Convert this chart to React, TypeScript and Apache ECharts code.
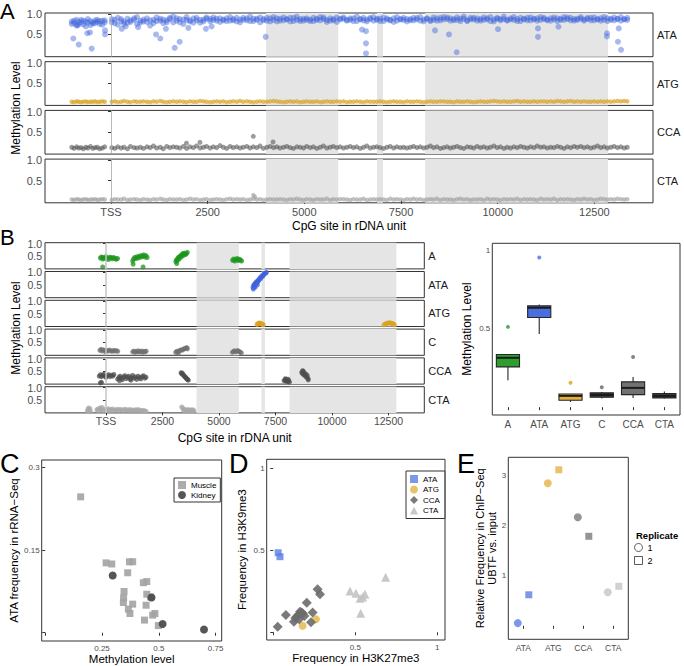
import React, { useEffect, useRef } from 'react';
import * as echarts from 'echarts';

const FONT = '"Liberation Sans", Arial, Helvetica, sans-serif';

// ---------------- Panel A data ----------------
const shadedRegions = [[4007, 5876], [6877, 7033], [8123, 12852]];
const siteTicks = [0, 2500, 5000, 7500, 10000, 12500];
const siteTickLabels = ['TSS', '2500', '5000', '7500', '10000', '12500'];

const cpgSites = [
  -1015, -955, -890, -838, -772, -716, -650, -598, -530, -471, -410, -352, -290, -226, -162,
  20, 98, 176, 262, 338, 425, 503, 596, 672, 760,
  841, 930, 1012, 1098, 1180, 1275, 1352, 1440, 1523, 1610,
  1697, 1780, 1872, 1955, 2043, 2130, 2212, 2305, 2390, 2470,
  2562, 2645, 2731, 2820, 2905, 2990, 3078, 3161, 3250, 3336,
  3420, 3512, 3596, 3680, 3771, 3855, 3940, 4030, 4115, 4203,
  4288, 4370, 4462, 4547, 4633, 4718, 4805, 4892, 4978, 5060,
  5150, 5235, 5322, 5410, 5493, 5580, 5668, 5750, 5840, 5925,
  6012, 6098, 6185, 6270, 6356, 6445, 6530, 6615, 6702, 6790,
  6874, 6960, 7048, 7135, 7220, 7308, 7392, 7480, 7565, 7652,
  7740, 7824, 7912, 7998, 8085, 8170, 8258, 8342, 8430, 8518,
  8602, 8690, 8776, 8862, 8950, 9035, 9122, 9210, 9295, 9380,
  9468, 9555, 9640, 9728, 9812, 9900, 9987, 10072, 10160, 10245,
  10332, 10418, 10505, 10590, 10678, 10765, 10850, 10938, 11022, 11110,
  11196, 11282, 11370, 11455, 11542, 11628, 11715, 11800, 11888, 11975,
  12060, 12148, 12232, 12320, 12406, 12492, 12580, 12665, 12752, 12838,
  12925, 13010, 13098, 13185, 13270, 13350,
];

const ataLevels = [
  0.82, 0.78, 0.86, 0.74, 0.80, 0.84, 0.70, 0.79, 0.83, 0.77, 0.85, 0.81, 0.76, 0.84, 0.80,
  0.80, 0.86, 0.74, 0.88, 0.82, 0.79, 0.85, 0.90, 0.76, 0.84,
  0.87, 0.81, 0.72, 0.86, 0.83, 0.89, 0.78, 0.85, 0.91, 0.80,
  0.84, 0.88, 0.76, 0.86, 0.82, 0.90, 0.85, 0.79, 0.87, 0.92,
  0.83, 0.86, 0.89, 0.81, 0.85, 0.90, 0.84, 0.88, 0.82, 0.87,
  0.91, 0.85, 0.83, 0.89, 0.86, 0.80, 0.88, 0.84, 0.90, 0.86,
  0.82, 0.89, 0.85, 0.87, 0.91, 0.83, 0.86, 0.88, 0.84, 0.90,
  0.87, 0.83, 0.89, 0.85, 0.92, 0.86, 0.84, 0.88, 0.81, 0.87,
  0.89, 0.84, 0.86, 0.90, 0.83, 0.88, 0.85, 0.87, 0.91, 0.84,
  0.86, 0.89, 0.83, 0.87, 0.85, 0.90, 0.84, 0.88, 0.86, 0.82,
  0.88, 0.85, 0.91, 0.84, 0.87, 0.89, 0.83, 0.86, 0.90, 0.85,
  0.87, 0.92, 0.84, 0.88, 0.86, 0.83, 0.89, 0.85, 0.91, 0.87,
  0.84, 0.88, 0.86, 0.90, 0.83, 0.87, 0.89, 0.85, 0.88, 0.84,
  0.90, 0.86, 0.88, 0.83, 0.87, 0.91, 0.85, 0.89, 0.84, 0.86,
  0.88, 0.85, 0.90, 0.87, 0.83, 0.89, 0.86, 0.92, 0.85, 0.88,
  0.86, 0.89, 0.84, 0.88, 0.91, 0.85, 0.87, 0.90, 0.86, 0.83,
  0.89, 0.85, 0.88, 0.84, 0.87, 0.86,
];

const ataLevels2 = [
  0.76, 0.84, 0.72, 0.81, 0.86, 0.75, 0.82, 0.88, 0.73, 0.80, 0.78, 0.86, 0.83, 0.74, 0.85,
  0.88, 0.78, 0.91, 0.83, 0.76, 0.89, 0.81, 0.86, 0.93, 0.79,
  0.82, 0.90, 0.85, 0.78, 0.92, 0.84, 0.87, 0.80, 0.88, 0.94,
  0.90, 0.80, 0.87, 0.93, 0.85, 0.79, 0.91, 0.86, 0.82, 0.89,
  0.88, 0.92, 0.84, 0.90, 0.87, 0.83, 0.93, 0.85, 0.91, 0.80,
  0.86, 0.90, 0.94, 0.83, 0.89, 0.92, 0.85, 0.91, 0.82, 0.93,
  0.90, 0.84, 0.92, 0.88, 0.82, 0.91, 0.94, 0.83, 0.89, 0.86,
  0.83, 0.91, 0.86, 0.93, 0.88, 0.81, 0.90, 0.85, 0.92, 0.89,
  0.92, 0.86, 0.90, 0.83, 0.94, 0.87, 0.91, 0.82, 0.88, 0.93,
  0.89, 0.83, 0.92, 0.90, 0.86, 0.81, 0.93, 0.87, 0.91, 0.88,
  0.85, 0.91, 0.87, 0.93, 0.82, 0.90, 0.86, 0.92, 0.84, 0.91,
  0.93, 0.88, 0.90, 0.85, 0.92, 0.89, 0.94, 0.83, 0.87, 0.91,
  0.90, 0.84, 0.92, 0.87, 0.93, 0.82, 0.91, 0.88, 0.94, 0.86,
  0.87, 0.93, 0.83, 0.91, 0.89, 0.85, 0.92, 0.87, 0.90, 0.93,
  0.91, 0.87, 0.84, 0.92, 0.90, 0.86, 0.93, 0.88, 0.91, 0.84,
  0.89, 0.93, 0.87, 0.91, 0.85, 0.92, 0.88, 0.84, 0.93, 0.90,
  0.86, 0.92, 0.89, 0.93, 0.88, 0.91,
];

const atgLevels = [
  0.04, 0.03, 0.05, 0.04, 0.03, 0.04, 0.05, 0.03, 0.04, 0.04, 0.05, 0.03, 0.04, 0.05, 0.04,
  0.04, 0.05, 0.03, 0.04, 0.06, 0.04, 0.03, 0.05, 0.04, 0.04,
  0.05, 0.04, 0.03, 0.05, 0.04, 0.06, 0.04, 0.03, 0.04, 0.05,
  0.04, 0.05, 0.04, 0.03, 0.05, 0.04, 0.04, 0.06, 0.05, 0.04,
  0.03, 0.04, 0.05, 0.04, 0.05, 0.03, 0.04, 0.05, 0.04, 0.06,
  0.04, 0.05, 0.04, 0.03, 0.04, 0.05, 0.04, 0.04, 0.05, 0.06,
  0.05, 0.04, 0.03, 0.04, 0.05, 0.04, 0.05, 0.03, 0.04, 0.05,
  0.04, 0.04, 0.05, 0.03, 0.04, 0.05, 0.04, 0.04, 0.05, 0.04,
  0.05, 0.03, 0.04, 0.04, 0.05, 0.04, 0.03, 0.05, 0.04, 0.04,
  0.04, 0.05, 0.04, 0.03, 0.04, 0.05, 0.04, 0.04, 0.03, 0.05,
  0.04, 0.04, 0.05, 0.04, 0.03, 0.04, 0.05, 0.04, 0.04, 0.05,
  0.05, 0.04, 0.04, 0.03, 0.05, 0.04, 0.04, 0.05, 0.04, 0.03,
  0.04, 0.05, 0.04, 0.04, 0.05, 0.06, 0.05, 0.04, 0.05, 0.04,
  0.04, 0.05, 0.06, 0.04, 0.05, 0.04, 0.04, 0.05, 0.04, 0.05,
  0.05, 0.04, 0.05, 0.04, 0.06, 0.05, 0.04, 0.05, 0.06, 0.04,
  0.05, 0.04, 0.05, 0.04, 0.04, 0.05, 0.04, 0.05, 0.04, 0.05,
  0.04, 0.05, 0.06, 0.05, 0.06, 0.05,
];

const ccaLevels = [
  0.12, 0.09, 0.13, 0.10, 0.11, 0.08, 0.12, 0.10, 0.14, 0.09, 0.11, 0.12, 0.08, 0.10, 0.13,
  0.11, 0.09, 0.13, 0.10, 0.12, 0.08, 0.14, 0.11, 0.10, 0.12,
  0.09, 0.13, 0.11, 0.15, 0.10, 0.12, 0.08, 0.14, 0.11, 0.13,
  0.12, 0.10, 0.14, 0.09, 0.13, 0.11, 0.15, 0.10, 0.12, 0.14,
  0.10, 0.13, 0.11, 0.16, 0.12, 0.09, 0.14, 0.11, 0.13, 0.10,
  0.12, 0.14, 0.10, 0.13, 0.11, 0.15, 0.09, 0.12, 0.14, 0.11,
  0.13, 0.10, 0.12, 0.14, 0.11, 0.09, 0.13, 0.12, 0.10, 0.14,
  0.11, 0.13, 0.09, 0.12, 0.15, 0.10, 0.12, 0.14, 0.11, 0.13,
  0.10, 0.12, 0.14, 0.11, 0.13, 0.09, 0.12, 0.15, 0.10, 0.12,
  0.13, 0.11, 0.09, 0.12, 0.14, 0.10, 0.13, 0.11, 0.12, 0.10,
  0.12, 0.14, 0.11, 0.13, 0.10, 0.12, 0.15, 0.11, 0.13, 0.09,
  0.11, 0.13, 0.10, 0.12, 0.14, 0.11, 0.09, 0.13, 0.12, 0.10,
  0.14, 0.11, 0.13, 0.10, 0.12, 0.15, 0.11, 0.13, 0.09, 0.12,
  0.10, 0.13, 0.11, 0.14, 0.12, 0.10, 0.13, 0.11, 0.15, 0.12,
  0.13, 0.10, 0.12, 0.11, 0.14, 0.12, 0.09, 0.13, 0.11, 0.14,
  0.12, 0.14, 0.11, 0.13, 0.10, 0.12, 0.15, 0.11, 0.13, 0.10,
  0.12, 0.14, 0.11, 0.13, 0.10, 0.12,
];

const ctaLevels = [
  0.03, 0.02, 0.04, 0.03, 0.02, 0.03, 0.04, 0.02, 0.03, 0.03, 0.04, 0.02, 0.03, 0.04, 0.03,
  0.02, 0.04, 0.03, 0.03, 0.05, 0.02, 0.03, 0.04, 0.03, 0.02,
  0.04, 0.03, 0.02, 0.04, 0.03, 0.05, 0.03, 0.02, 0.04, 0.03,
  0.03, 0.04, 0.02, 0.03, 0.05, 0.03, 0.04, 0.02, 0.03, 0.04,
  0.02, 0.03, 0.04, 0.03, 0.02, 0.04, 0.05, 0.03, 0.04, 0.03,
  0.04, 0.02, 0.03, 0.05, 0.03, 0.04, 0.02, 0.03, 0.04, 0.03,
  0.03, 0.04, 0.03, 0.02, 0.04, 0.03, 0.05, 0.03, 0.02, 0.04,
  0.03, 0.02, 0.04, 0.03, 0.03, 0.05, 0.02, 0.04, 0.03, 0.04,
  0.04, 0.03, 0.02, 0.04, 0.03, 0.03, 0.05, 0.02, 0.03, 0.04,
  0.03, 0.04, 0.03, 0.02, 0.05, 0.03, 0.04, 0.03, 0.02, 0.04,
  0.03, 0.05, 0.03, 0.04, 0.02, 0.03, 0.04, 0.03, 0.05, 0.02,
  0.04, 0.03, 0.03, 0.02, 0.04, 0.05, 0.03, 0.04, 0.02, 0.03,
  0.03, 0.04, 0.02, 0.05, 0.03, 0.04, 0.03, 0.02, 0.04, 0.03,
  0.04, 0.03, 0.05, 0.02, 0.04, 0.03, 0.04, 0.03, 0.02, 0.05,
  0.03, 0.04, 0.03, 0.05, 0.02, 0.04, 0.03, 0.04, 0.03, 0.02,
  0.04, 0.03, 0.05, 0.03, 0.04, 0.02, 0.03, 0.05, 0.04, 0.03,
  0.04, 0.03, 0.05, 0.04, 0.03, 0.04,
];

const ataOutliers = [
  [-975, 0.40], [-835, 0.25], [-500, 0.15], [-613, 0.53], [-543, 0.55], [-880, 0.73],
  [-155, 0.60], [-155, 0.50], [1164, 0.50], [1275, 0.40], [1647, 0.17], [1776, 0.32],
  [4000, 0.44], [1420, 0.64], [2455, 0.64], [6594, 0.58], [6594, 0.28], [6594, 0.03],
  [6490, 0.62], [8940, 0.06], [8378, 0.60], [8740, 0.50], [11042, 0.65], [11042, 0.44],
  [10008, 0.63], [12826, 0.53], [12826, 0.45], [13110, 0.32], [13190, 0.12], [13130, 0.65],
  [11570, 0.69], [277, 0.64], [380, 0.70], [700, 0.68], [2000, 0.66], [2600, 0.70],
];
const ccaOutliers = [[3680, 0.39], [4190, 0.25], [2300, 0.24], [1950, 0.22]];
const ctaOutliers = [[3680, 0.14], [3720, 0.10]];

// ---------------- Panel B data ----------------
const bAPoints = [
  [-250, 0.42], [-200, 0.46], [-150, 0.38], [-120, 0.44], [-60, 0.40], [0, 0.47], [60, 0.41],
  [110, 0.36], [170, 0.45], [220, 0.43], [280, 0.39], [330, 0.44], [390, 0.41], [450, 0.37],
  [510, 0.40], [-146, 0.06],
  [1180, 0.30], [1220, 0.38], [1270, 0.44], [1320, 0.40], [1370, 0.47], [1420, 0.42], [1470, 0.50],
  [1520, 0.45], [1570, 0.52], [1620, 0.48], [1670, 0.55], [1720, 0.46], [1770, 0.52], [1820, 0.44],
  [1200, 0.17], [1640, 0.06],
  [3090, 0.28], [3120, 0.35], [3150, 0.32], [3180, 0.40], [3210, 0.45], [3240, 0.38], [3270, 0.48],
  [3300, 0.52], [3330, 0.46], [3360, 0.55], [3390, 0.60], [3420, 0.52], [3450, 0.58], [3480, 0.62],
  [3520, 0.56], [3560, 0.60], [3600, 0.65], [3130, 0.20],
  [5600, 0.33], [5650, 0.38], [5700, 0.30], [5750, 0.36], [5800, 0.40], [5850, 0.32], [5900, 0.37],
  [5950, 0.34], [6000, 0.30],
];
const bATAPoints = [
  [6500, 0.40], [6530, 0.48], [6560, 0.52], [6580, 0.45], [6610, 0.58], [6640, 0.55], [6660, 0.62],
  [6690, 0.60], [6720, 0.68], [6750, 0.66], [6780, 0.72], [6810, 0.78], [6840, 0.75], [6870, 0.82],
  [6900, 0.86], [6930, 0.84], [6960, 0.90], [6990, 0.93], [7020, 0.96], [7060, 0.98], [7100, 1.0],
  [6520, 0.33], [6600, 0.40], [6700, 0.50],
];
const bATGPoints = [
  [6680, 0.06], [6720, 0.09], [6760, 0.11], [6800, 0.12], [6840, 0.10], [6880, 0.08], [6920, 0.07],
  [6960, 0.05], [12300, 0.05], [12360, 0.08], [12420, 0.10], [12480, 0.12], [12540, 0.13],
  [12600, 0.12], [12660, 0.10], [12720, 0.08], [12760, 0.05],
];
const bCPoints = [
  [-270, 0.18], [-220, 0.22], [-170, 0.15], [-120, 0.20], [-70, 0.17], [-20, 0.12], [40, 0.18],
  [100, 0.15], [160, 0.19], [220, 0.16], [280, 0.14], [340, 0.18], [400, 0.15], [460, 0.17], [520, 0.14],
  [1180, 0.12], [1230, 0.15], [1280, 0.10], [1330, 0.14], [1380, 0.12], [1430, 0.16], [1480, 0.11],
  [1530, 0.13], [1580, 0.15], [1630, 0.10], [1680, 0.14], [1730, 0.12], [1780, 0.15],
  [3080, 0.10], [3130, 0.14], [3180, 0.12], [3230, 0.16], [3280, 0.18], [3330, 0.20], [3380, 0.19],
  [3430, 0.23], [3480, 0.25], [3530, 0.27], [3580, 0.29], [3600, 0.24], [3200, 0.06],
  [5590, 0.10], [5640, 0.14], [5690, 0.16], [5740, 0.12], [5790, 0.15], [5840, 0.17], [5890, 0.13],
  [5940, 0.11], [5990, 0.08],
];
const bCCAPoints = [
  [-300, 0.30], [-250, 0.36], [-200, 0.28], [-150, 0.33], [-100, 0.38], [-50, 0.30], [0, 0.25],
  [60, 0.32], [120, 0.36], [180, 0.28], [240, 0.34], [300, 0.30], [350, 0.37], [-250, 0.03], [-200, 0.05],
  [520, 0.18], [570, 0.25], [620, 0.30], [680, 0.22], [730, 0.16], [780, 0.28], [840, 0.32], [900, 0.20],
  [950, 0.26], [1010, 0.30], [1070, 0.18], [1120, 0.24], [1180, 0.33], [1240, 0.22], [1300, 0.27],
  [1360, 0.17], [1420, 0.30], [1480, 0.24], [1540, 0.19], [1600, 0.28], [1660, 0.32], [1720, 0.22],
  [1770, 0.26], [600, 0.12], [1100, 0.14],
  [3320, 0.44], [3350, 0.40], [3380, 0.42], [3410, 0.36], [3440, 0.33], [3470, 0.30], [3500, 0.27],
  [3530, 0.24], [3560, 0.21], [3590, 0.18], [3620, 0.16], [3640, 0.14],
  [7880, 0.12], [7920, 0.16], [7960, 0.10], [8000, 0.14], [8040, 0.08], [8080, 0.12], [8120, 0.06],
  [7940, 0.20], [8060, 0.18],
  [8660, 0.45], [8700, 0.40], [8730, 0.50], [8760, 0.35], [8790, 0.42], [8820, 0.30], [8850, 0.38],
  [8880, 0.25], [8910, 0.32], [8940, 0.20], [8950, 0.15], [8700, 0.52],
];
const bCTAPoints = [
  [-830, 0.05], [-800, 0.12], [-770, 0.18], [-740, 0.08], [-710, 0.15], [-680, 0.03],
  [-410, 0.10], [-360, 0.14], [-310, 0.06], [-270, 0.18], [-230, 0.11], [-180, 0.20], [-130, 0.08],
  [-80, 0.13], [40, 0.09], [90, 0.15], [140, 0.05], [190, 0.12], [240, 0.08], [290, 0.14], [340, 0.06],
  [400, 0.11], [460, 0.09], [520, 0.13], [580, 0.07], [640, 0.12], [700, 0.10], [760, 0.06], [820, 0.13],
  [880, 0.09], [940, 0.11], [1000, 0.07], [1060, 0.12], [1120, 0.08], [1180, 0.10], [1240, 0.06],
  [1300, 0.11], [1360, 0.08], [1420, 0.12], [1480, 0.07], [1540, 0.09], [1600, 0.05], [1660, 0.08],
  [1720, 0.06], [1780, 0.04],
  [3350, 0.22], [3390, 0.18], [3430, 0.08], [3470, 0.12], [3510, 0.05], [3550, 0.10], [3590, 0.07],
  [3630, 0.12], [3670, 0.06], [3710, 0.09], [3750, 0.05], [3790, 0.11], [3830, 0.07], [3870, 0.10],
  [3890, 0.04],
];

// Boxplot (B right): [min, Q1, median, Q3, max]
const boxCats = ['A', 'ATA', 'ATG', 'C', 'CCA', 'CTA'];
const boxStats = [
  [0.172, 0.257, 0.315, 0.336, 0.336],
  [0.467, 0.572, 0.634, 0.646, 0.655],
  [0.033, 0.044, 0.072, 0.084, 0.084],
  [0.055, 0.063, 0.078, 0.091, 0.097],
  [0.059, 0.080, 0.123, 0.161, 0.193],
  [0.055, 0.059, 0.072, 0.087, 0.100],
];
const boxOutliers = [['A', 0.512], ['ATA', 0.955], ['ATG', 0.155], ['C', 0.127], ['CCA', 0.32]];

// ---------------- Panel C data ----------------
const musclePoints = [
  [0.156, 0.247], [0.268, 0.127], [0.293, 0.125], [0.371, 0.129], [0.385, 0.129], [0.363, 0.109],
  [0.347, 0.075], [0.345, 0.063], [0.344, 0.055], [0.385, 0.052], [0.366, 0.043], [0.373, 0.035],
  [0.432, 0.091], [0.447, 0.093], [0.447, 0.070], [0.444, 0.050], [0.437, 0.023], [0.473, 0.032],
  [0.483, 0.035], [0.498, 0.013], [0.464, 0.065],
];
const kidneyPoints = [[0.297, 0.104], [0.468, 0.064], [0.517, 0.016], [0.699, 0.006]];

// ---------------- Panel D data ----------------
const dATA = [[0.030, 0.485], [0.041, 0.461]];
const dATG = [[0.179, 0.040], [0.260, 0.079]];
const dCCA = [
  [0.027, 0.034], [0.077, 0.105], [0.126, 0.065], [0.143, 0.095], [0.153, 0.105], [0.163, 0.126],
  [0.173, 0.120], [0.180, 0.115], [0.135, 0.087], [0.204, 0.180], [0.240, 0.120], [0.230, 0.061],
  [0.270, 0.262], [0.285, 0.232], [0.158, 0.080], [0.190, 0.100],
];
const dCTA = [
  [0.468, 0.252], [0.504, 0.238], [0.529, 0.207], [0.559, 0.232], [0.533, 0.116], [0.685, 0.335],
  [0.545, 0.215],
];

// ---------------- Panel E data ----------------
const eCats = ['ATA', 'ATG', 'CCA', 'CTA'];
const eRep1 = [0.054, 2.85, 2.17, 0.67];
const eRep2 = [0.62, 3.12, 1.79, 0.79];

// ---------------- styling ----------------
const A_LEFT = 45, A_W = 608, A_H = 43.7, A_TOPS = [13, 61.7, 110.4, 159.1];
const A_XMIN = -1707, A_XMAX = 14016;
const B_LEFT = 45, B_W = 379.3, B_H = 26.2, B_TOP0 = 242.7, B_STEP = 28.8;
const B_XMIN = -2700, B_XMAX = 14085;

const tick = (size: number) => ({ fontSize: size, color: '#4d4d4d', fontFamily: FONT });
const title = (size: number) => ({ fontSize: size, color: '#000', fontFamily: FONT });
const siteLabel = (v: number) => {
  const i = siteTicks.indexOf(v);
  return i >= 0 ? siteTickLabels[i] : '';
};

function buildOption() {
  const grid: any[] = [], xAxis: any[] = [], yAxis: any[] = [], series: any[] = [], graphic: any[] = [];
  const addGrid = (left: number, top: number, width: number, height: number) => {
    grid.push({ left, top, width, height, show: true, borderColor: '#333', borderWidth: 1, backgroundColor: 'rgba(0,0,0,0)', containLabel: false });
    return grid.length - 1;
  };
  const shade = (gi: number, lineColor: string, lineWidth: number) => ({
    type: 'scatter', xAxisIndex: gi, yAxisIndex: gi, data: [], silent: true, z: 1,
    markArea: { silent: true, itemStyle: { color: '#e5e5e5' }, label: { show: false },
      data: shadedRegions.map(([a, b]) => [{ xAxis: a }, { xAxis: b }]) },
    markLine: { silent: true, symbol: ['none', 'none'], label: { show: false },
      lineStyle: { color: lineColor, width: lineWidth, type: 'solid' }, data: [{ xAxis: 0 }] },
  });

  // Panel A
  const aTracks = [
    { name: 'ATA', values: [ataLevels, ataLevels2], extra: ataOutliers, color: '#3f63dc', opacity: 0.45, size: 6 },
    { name: 'ATG', values: [atgLevels], extra: [], color: '#d9a21f', opacity: 0.7, size: 4.5 },
    { name: 'CCA', values: [ccaLevels], extra: ccaOutliers, color: '#4a4a4a', opacity: 0.55, size: 5 },
    { name: 'CTA', values: [ctaLevels], extra: ctaOutliers, color: '#9a9a9a', opacity: 0.6, size: 4.5 },
  ];
  aTracks.forEach((t, i) => {
    const gi = addGrid(A_LEFT, A_TOPS[i], A_W, A_H);
    const last = i === aTracks.length - 1;
    xAxis.push({ gridIndex: gi, type: 'value', min: A_XMIN, max: A_XMAX,
      axisLine: { show: false }, splitLine: { show: false },
      axisTick: { show: last, customValues: siteTicks, length: 3, lineStyle: { color: '#333' } },
      axisLabel: { show: last, customValues: siteTicks, formatter: siteLabel, margin: 4, ...tick(11) },
      name: last ? 'CpG site in rDNA unit' : '', nameLocation: 'middle', nameGap: 17, nameMoveOverlap: false,
      nameTextStyle: title(12) });
    yAxis.push({ gridIndex: gi, type: 'value', min: -0.05, max: 1.03,
      axisLine: { show: false }, splitLine: { show: false },
      axisTick: { customValues: [0.5, 1], length: 3, lineStyle: { color: '#333' } },
      axisLabel: { customValues: [0.5, 1], formatter: (v: number) => v.toFixed(1), margin: 3, ...tick(11) } });
    series.push(shade(gi, '#a8a8a8', 0.8));
    const data: any[] = [];
    t.values.forEach((vals) => {
      cpgSites.forEach((x, k) => {
        if (vals[k] != null) data.push([x, vals[k]]);
      });
    });
    (t.extra as number[][]).forEach((d) => data.push(d));
    series.push({ type: 'scatter', name: 'A-' + t.name, xAxisIndex: gi, yAxisIndex: gi, data, silent: true, z: 3,
      symbolSize: t.size, itemStyle: { color: t.color, opacity: t.opacity } });
    graphic.push({ type: 'text', x: A_LEFT + A_W + 4, y: A_TOPS[i] + A_H / 2,
      style: { text: t.name, fontSize: 11, fontFamily: FONT, fill: '#1a1a1a', align: 'left', verticalAlign: 'middle' } });
  });

  // Panel B (left)
  const bTracks = [
    { name: 'A', points: bAPoints, color: '#1c961c' },
    { name: 'ATA', points: bATAPoints, color: '#3f63dc' },
    { name: 'ATG', points: bATGPoints, color: '#d9a21f' },
    { name: 'C', points: bCPoints, color: '#707070' },
    { name: 'CCA', points: bCCAPoints, color: '#4d4d4d' },
    { name: 'CTA', points: bCTAPoints, color: '#a8a8a8' },
  ];
  bTracks.forEach((t, i) => {
    const top = B_TOP0 + i * B_STEP;
    const gi = addGrid(B_LEFT, top, B_W, B_H);
    const last = i === bTracks.length - 1;
    xAxis.push({ gridIndex: gi, type: 'value', min: B_XMIN, max: B_XMAX,
      axisLine: { show: false }, splitLine: { show: false },
      axisTick: { show: last, customValues: siteTicks, length: 3, lineStyle: { color: '#333' } },
      axisLabel: { show: last, customValues: siteTicks, formatter: siteLabel, margin: 3, ...tick(10.5) },
      name: last ? 'CpG site in rDNA unit' : '', nameLocation: 'middle', nameGap: 19, nameMoveOverlap: false,
      nameTextStyle: title(12) });
    yAxis.push({ gridIndex: gi, type: 'value', min: -0.02, max: 1.04,
      axisLine: { show: false }, splitLine: { show: false },
      axisTick: { customValues: [0.5, 1], length: 3, lineStyle: { color: '#333' } },
      axisLabel: { customValues: [0.5, 1], formatter: (v: number) => v.toFixed(1), margin: 3, ...tick(10.5) } });
    series.push(shade(gi, '#c4c4c4', 1.5));
    series.push({ type: 'scatter', name: 'B-' + t.name, xAxisIndex: gi, yAxisIndex: gi, data: t.points, silent: true, z: 3,
      symbolSize: 5, itemStyle: { color: t.color, opacity: 0.75 } });
    graphic.push({ type: 'text', x: B_LEFT + B_W + 4, y: top + B_H / 2,
      style: { text: t.name, fontSize: 11, fontFamily: FONT, fill: '#1a1a1a', align: 'left', verticalAlign: 'middle' } });
  });

  // Boxplot drawn ggplot-style (no whisker caps) with a custom series on the category axis
  const boxColors = ['#2e9e2e', '#4a6fdc', '#e3b040', '#3d3d3d', '#727272', '#3d3d3d'];
  const outColors: Record<string, string> = { A: '#2e9e2e', ATA: '#4a6fdc', ATG: '#d9a21f', C: '#666', CCA: '#666' };
  {
    const gi = addGrid(492.3, 243.3, 187.7, 171.7);
    xAxis.push({ gridIndex: gi, type: 'category', data: boxCats, axisLine: { show: false }, splitLine: { show: false },
      axisTick: { show: true, alignWithLabel: true, length: 3, lineStyle: { color: '#333' } },
      axisLabel: { margin: 4, ...tick(10) } });
    yAxis.push({ gridIndex: gi, type: 'value', min: -0.05, max: 1.045, axisLine: { show: false }, splitLine: { show: false },
      axisTick: { customValues: [0, 0.5, 1], length: 3, lineStyle: { color: '#333' } },
      axisLabel: { customValues: [0, 0.5, 1], formatter: (v: number) => (v === 0 ? '' : String(v)), margin: 2, ...tick(8) },
      name: 'Methylation Level', nameLocation: 'middle', nameGap: 19, nameMoveOverlap: false, nameTextStyle: title(12) });
    series.push({
      type: 'custom', name: 'box', xAxisIndex: gi, yAxisIndex: gi, silent: true, z: 2,
      encode: { x: 0, y: [1, 2, 3, 4, 5] },
      data: boxStats.map((s, k) => [k, ...s]),
      renderItem: (params: any, api: any) => {
        const k = api.value(0);
        const cx = api.coord([k, 0])[0];
        const y = (d: number) => api.coord([k, api.value(d)])[1];
        const yMin = y(1), yQ1 = y(2), yMed = y(3), yQ3 = y(4), yMax = y(5);
        const half = (api.size([1, 0])[0] * 0.74) / 2;
        const stroke = { stroke: '#262626', lineWidth: 1.1 };
        return {
          type: 'group',
          children: [
            { type: 'line', shape: { x1: cx, y1: yMax, x2: cx, y2: yQ3 }, style: stroke },
            { type: 'line', shape: { x1: cx, y1: yQ1, x2: cx, y2: yMin }, style: stroke },
            { type: 'rect', shape: { x: cx - half, y: yQ3, width: 2 * half, height: Math.max(yQ1 - yQ3, 1) },
              style: { fill: boxColors[params.dataIndex], ...stroke } },
            { type: 'line', shape: { x1: cx - half, y1: yMed, x2: cx + half, y2: yMed }, style: { stroke: '#1a1a1a', lineWidth: 2 } },
          ],
        };
      },
    });
    series.push({ type: 'scatter', name: 'box-out', xAxisIndex: gi, yAxisIndex: gi, silent: true, symbolSize: 4, z: 3,
      data: boxOutliers.map((o) => ({ value: o, itemStyle: { color: outColors[o[0] as string] } })) });
  }

  // Panel C
  {
    const gi = addGrid(41.7, 460, 180, 181);
    xAxis.push({ gridIndex: gi, type: 'value', min: -0.0156, max: 0.777, axisLine: { show: false }, splitLine: { show: false },
      axisTick: { customValues: [0, 0.25, 0.5, 0.75], length: 3, lineStyle: { color: '#333' } },
      axisLabel: { customValues: [0, 0.25, 0.5, 0.75], formatter: (v: number) => (v === 0 ? '' : String(v)), margin: 3, ...tick(8) },
      name: 'Methylation level', nameLocation: 'middle', nameGap: 12, nameMoveOverlap: false, nameTextStyle: title(11.5) });
    yAxis.push({ gridIndex: gi, type: 'value', min: -0.015, max: 0.314, axisLine: { show: false }, splitLine: { show: false },
      axisTick: { customValues: [0, 0.15, 0.3], length: 3, lineStyle: { color: '#333' } },
      axisLabel: { customValues: [0, 0.15, 0.3], formatter: (v: number) => (v === 0 ? '' : String(v)), margin: 2, ...tick(8) },
      name: 'ATA frequency in rRNA\u2212Seq', nameLocation: 'middle', nameGap: 22, nameMoveOverlap: false, nameTextStyle: title(11.5) });
    series.push({ type: 'scatter', name: 'Muscle', xAxisIndex: gi, yAxisIndex: gi, data: musclePoints, symbol: 'rect', symbolSize: 7,
      itemStyle: { color: '#a3a3a3', opacity: 0.9 }, silent: true });
    series.push({ type: 'scatter', name: 'Kidney', xAxisIndex: gi, yAxisIndex: gi, data: kidneyPoints, symbol: 'circle', symbolSize: 8,
      itemStyle: { color: '#4d4d4d', opacity: 0.95 }, silent: true });
  }

  // Panel D
  {
    const gi = addGrid(266.7, 459.3, 178.3, 180.7);
    xAxis.push({ gridIndex: gi, type: 'value', min: -0.04, max: 1.047, axisLine: { show: false }, splitLine: { show: false },
      axisTick: { customValues: [0, 0.5, 1], length: 3, lineStyle: { color: '#333' } },
      axisLabel: { customValues: [0, 0.5, 1], formatter: (v: number) => (v === 0 ? '' : String(v)), margin: 3, ...tick(8) },
      name: 'Frequency in H3K27me3', nameLocation: 'middle', nameGap: 12, nameMoveOverlap: false, nameTextStyle: title(11.5) });
    yAxis.push({ gridIndex: gi, type: 'value', min: -0.047, max: 1.055, axisLine: { show: false }, splitLine: { show: false },
      axisTick: { customValues: [0, 0.5, 1], length: 3, lineStyle: { color: '#333' } },
      axisLabel: { customValues: [0, 0.5, 1], formatter: (v: number) => (v === 0 ? '' : String(v)), margin: 2, ...tick(8) },
      name: 'Frequency in H3K9me3', nameLocation: 'middle', nameGap: 19, nameMoveOverlap: false, nameTextStyle: title(11.5) });
    series.push({ type: 'scatter', name: 'ATA', xAxisIndex: gi, yAxisIndex: gi, data: dATA, symbol: 'rect', symbolSize: 7,
      itemStyle: { color: '#5b7ee3' }, silent: true });
    series.push({ type: 'scatter', name: 'ATG', xAxisIndex: gi, yAxisIndex: gi, data: dATG, symbol: 'circle', symbolSize: 8,
      itemStyle: { color: '#e3b347' }, silent: true });
    series.push({ type: 'scatter', name: 'CCA', xAxisIndex: gi, yAxisIndex: gi, data: dCCA, symbol: 'diamond', symbolSize: 10,
      itemStyle: { color: '#6b6b6b', opacity: 0.9 }, silent: true });
    series.push({ type: 'scatter', name: 'CTA', xAxisIndex: gi, yAxisIndex: gi, data: dCTA, symbol: 'triangle', symbolSize: 9,
      itemStyle: { color: '#c2c2c2', opacity: 0.9 }, silent: true });
  }

  // Panel E
  const eColors = ['#5b7ee3', '#e3b347', '#7a7a7a', '#c6c6c6'];
  {
    const gi = addGrid(508.3, 457.3, 120, 182);
    xAxis.push({ gridIndex: gi, type: 'category', data: eCats, axisLine: { show: false }, splitLine: { show: false },
      axisTick: { show: true, alignWithLabel: true, length: 3, lineStyle: { color: '#333' } },
      axisLabel: { margin: 4, ...tick(8.5) } });
    yAxis.push({ gridIndex: gi, type: 'value', min: -0.27, max: 3.37, axisLine: { show: false }, splitLine: { show: false },
      axisTick: { customValues: [0, 1, 2, 3], length: 3, lineStyle: { color: '#333' } },
      axisLabel: { customValues: [0, 1, 2, 3], formatter: (v: number) => (v === 0 ? '' : String(v)), margin: 2, ...tick(8) },
      name: 'Relative Frequency in ChIP\u2212Seq\nUBTF vs. input', nameLocation: 'middle', nameGap: 10, nameMoveOverlap: false,
      nameTextStyle: { ...title(11), lineHeight: 12 } });
    series.push({ type: 'scatter', name: '1', xAxisIndex: gi, yAxisIndex: gi, symbol: 'circle', symbolSize: 8, symbolOffset: [-5.5, 0],
      data: eRep1.map((v, k) => ({ value: v, itemStyle: { color: eColors[k] } })), silent: true });
    series.push({ type: 'scatter', name: '2', xAxisIndex: gi, yAxisIndex: gi, symbol: 'rect', symbolSize: 7, symbolOffset: [5.5, 0],
      data: eRep2.map((v, k) => ({ value: v, itemStyle: { color: eColors[k] } })), silent: true });
  }

  // Titles, panel letters
  graphic.push(
    { type: 'text', x: 16, y: 108, rotation: Math.PI / 2, style: { text: 'Methylation Level', ...title(12), fill: '#000', align: 'center', verticalAlign: 'middle' } },
    { type: 'text', x: 16, y: 328, rotation: Math.PI / 2, style: { text: 'Methylation Level', ...title(12), fill: '#000', align: 'center', verticalAlign: 'middle' } },
    { type: 'text', x: 0, y: 0, style: { text: 'A', fontSize: 22, fontFamily: FONT, fill: '#000' } },
    { type: 'text', x: 0, y: 226, style: { text: 'B', fontSize: 22, fontFamily: FONT, fill: '#000' } },
    { type: 'text', x: 0, y: 450, style: { text: 'C', fontSize: 27, fontFamily: FONT, fill: '#000' } },
    { type: 'text', x: 229, y: 450, style: { text: 'D', fontSize: 27, fontFamily: FONT, fill: '#000' } },
    { type: 'text', x: 457, y: 450, style: { text: 'E', fontSize: 27, fontFamily: FONT, fill: '#000' } },
    { type: 'text', x: 636, y: 530, style: { text: 'Replicate', fontSize: 9.5, fontWeight: 'bold', fontFamily: FONT, fill: '#000' } },
  );

  const legendBase = { orient: 'vertical', itemWidth: 8, itemHeight: 8, selectedMode: false,
    textStyle: { fontSize: 8, color: '#000', fontFamily: FONT } };
  const legend = [
    { ...legendBase, data: ['Muscle', 'Kidney'], left: 174, top: 478, itemGap: 2, padding: [3, 4, 3, 4],
      borderColor: '#333', borderWidth: 1, backgroundColor: '#fff' },
    { ...legendBase, data: ['ATA', 'ATG', 'CCA', 'CTA'], left: 406, top: 471, itemGap: 2.5, padding: [4, 5, 4, 4],
      borderColor: '#333', borderWidth: 1, backgroundColor: '#fff' },
    { ...legendBase, left: 634, top: 543, itemGap: 4, padding: 0, textStyle: { fontSize: 9, color: '#000', fontFamily: FONT },
      data: [
        { name: '1', icon: 'circle', itemStyle: { color: '#fff', borderColor: '#333', borderWidth: 1 } },
        { name: '2', icon: 'rect', itemStyle: { color: '#fff', borderColor: '#333', borderWidth: 1 } },
      ] },
  ];

  return { animation: false, backgroundColor: '#fff', textStyle: { fontFamily: FONT }, grid, xAxis, yAxis, series, graphic, legend };
}

export default function App() {
  const ref = useRef<HTMLDivElement>(null);
  useEffect(() => {
    const chart = echarts.init(ref.current as HTMLDivElement, null, { renderer: 'svg' });
    chart.setOption(buildOption() as any);
    return () => chart.dispose();
  }, []);
  return <div ref={ref} style={{ position: 'fixed', left: 0, top: 0, width: 684, height: 666, background: '#fff' }} />;
}
